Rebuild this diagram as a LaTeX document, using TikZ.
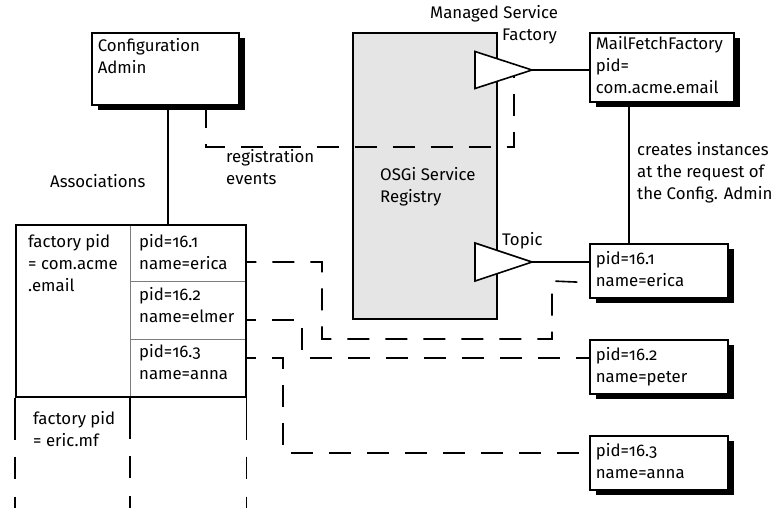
\documentclass[tikz,border=0pt]{standalone}
\usepackage{fontspec}
\setmainfont{Fira Sans}[Numbers=OldStyle]
\usetikzlibrary{shadows,calc}
\definecolor{reggray}{RGB}{229,229,229}
\definecolor{divgray}{RGB}{125,125,125}
\begin{document}
\begin{tikzpicture}[x=1pt,y=-1pt,
  every node/.style={font=\fontsize{16.8}{22}\selectfont},
  ln/.style={line width=1.6pt},
  dsh/.style={line width=1.6pt, dash pattern=on 22pt off 16pt},
  lbl/.style={inner sep=0pt, anchor=north west, align=left, execute at begin node=\strut},
  shbox/.style={draw, fill=white, line width=1.6pt, anchor=north west, inner xsep=6pt, inner ysep=0pt,
    align=left, execute at begin node=\strut, execute at end node=\strut,
    drop shadow={shadow xshift=6pt, shadow yshift=-5pt, opacity=1, fill=black}},
  cellg/.style={draw=divgray, line width=1.4pt, anchor=north west, inner sep=0pt},
  tri/.style={draw, fill=white, line width=1.6pt, line join=miter}
]
\useasboundingbox (0,0) rectangle (778,507);

% boxes
\node[shbox, text width=135pt, minimum height=72pt] (ca) at (91,32) {Configuration\\Admin\\\mbox{}};
\node[shbox, text width=132pt, minimum height=69pt] (mff) at (589,32) {MailFetchFactory\\pid=\\com.acme.email};
\node[shbox, text width=126pt, minimum height=54pt] (b1) at (589,243) {pid=16.1\\name=erica};
\node[shbox, text width=126pt, minimum height=54pt] (b2) at (589,339) {pid=16.2\\name=peter};
\node[shbox, text width=126pt, minimum height=54pt] (b3) at (589,435) {pid=16.3\\name=anna};

% registry
\node[draw, fill=reggray, line width=1.6pt, anchor=north west, minimum width=144pt, minimum height=286pt, inner sep=0pt] (reg) at (352,32) {};
\node[lbl] (regt) at (380,167.6) {OSGi Service\\Registry};

% table
\node[cellg, minimum width=115pt, minimum height=57pt] (p1) at (130,224) {};
\node[cellg, minimum width=115pt, minimum height=58pt] (p2) at (130,281) {};
\node[cellg, minimum width=115pt, minimum height=57pt] (p3) at (130,339) {};
\node[draw, line width=1.6pt, anchor=north west, minimum width=230pt, minimum height=172pt, inner sep=0pt] (tab) at (15,224) {};
\draw[ln] (tab.south west) -- ++(0,42) (tab.south west) ++(0,59) -- ++(0,22) (tab.south west) ++(0,99) -- ++(0,12);
\draw[ln] (p3.south west) -- ++(0,42) (p3.south west) ++(0,59) -- ++(0,22) (p3.south west) ++(0,99) -- ++(0,12);
\draw[ln] (tab.south east) -- ++(0,42) (tab.south east) ++(0,59) -- ++(0,22) (tab.south east) ++(0,99) -- ++(0,12);
\node[lbl] (f1) at (28,234.6) {factory pid\\= com.acme\\.email};
\node[lbl] (t1) at (139,234.6) {pid=16.1\\name=erica};
\node[lbl] (t2) at (139,287.3) {pid=16.2\\name=elmer};
\node[lbl] (t3) at (139,344.6) {pid=16.3\\name=anna};
\node[lbl] (f2) at (33,411.3) {factory pid\\= eric.mf};

% labels
\node[lbl] (assoc) at (50,171.6) {Associations};
\node[lbl] (regev) at (226,149) {registration\\events};
\node[lbl] (msfl) at (430,5.6) {Managed Service\\\hspace*{72pt}Factory};
\node[lbl] (crl) at (637,142.6) {creates instances\\at the request of\\the Config. Admin};
\node[lbl] (topl) at (502,229.6) {Topic};

% connectors
\draw[ln] ($(ca.south west)+(77,0)$) -- ($(tab.north west)+(153,0)$);
\draw[dsh] ($(ca.south west)+(115,0)$) |- (514,147) -- (514,76);
\draw[ln] ($(mff.south west)+(40,0)$) -- ($(b1.north west)+(40,0)$);

\draw[dsh, dash phase=12pt] ($(p1.north east)+(0,38)$) -| (322,339) -| (552,281) -- ($(b1.south west)+(0,-16)$);
\draw[dsh, dash phase=12pt] ($(p2.north east)+(0,39)$) -| (302,358) -- ($(b2.north west)+(0,19)$);
\draw[dsh, dash phase=12pt] ($(p3.north east)+(0,19)$) -| (283,453) -- ($(b3.north west)+(0,18)$);

% triangles (ports)
\coordinate (msf) at (532,70);
\coordinate (topic) at (532,262);
\draw[tri] (msf) -- ++(-57,-18.5) -- ++(0,37) -- cycle;
\draw[tri] (topic) -- ++(-57,-19) -- ++(0,38) -- cycle;
\draw[ln] (msf) -- (mff.west |- msf);
\draw[ln] (topic) -- (b1.west |- topic);
\end{tikzpicture}
\end{document}
